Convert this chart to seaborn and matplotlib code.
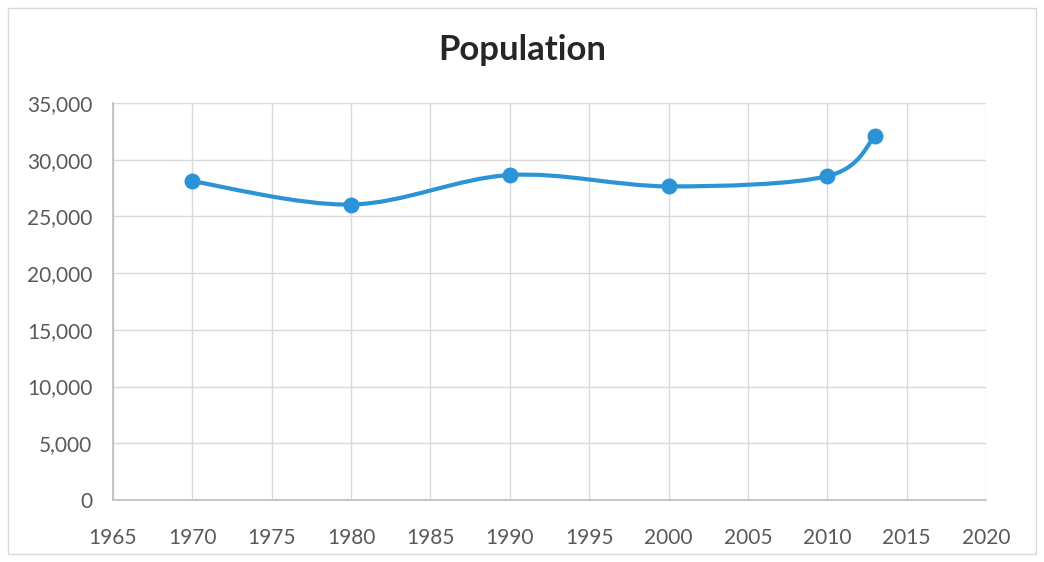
import numpy as np
import pandas as pd
import matplotlib
matplotlib.use('Agg')
import matplotlib.pyplot as plt
import seaborn as sns
from matplotlib.path import Path
from matplotlib.patches import PathPatch, Rectangle
from matplotlib.ticker import FuncFormatter

years = [1970, 1980, 1990, 2000, 2010, 2013]
population = [28100, 26050, 28650, 27650, 28550, 32050]

x_ticks = list(range(1965, 2021, 5))
y_ticks = list(range(0, 35001, 5000))

line_color = '#2B93D6'
grid_color = '#DADADA'
text_color = '#595959'

sns.set_theme(style='white')
plt.rcParams['font.family'] = ['Lato', 'DejaVu Sans']

df = pd.DataFrame({'year': years, 'population': population})

fig = plt.figure(figsize=(10.44, 5.62), dpi=100)
ax = fig.add_axes([113 / 1044, 1 - 500 / 562, (986 - 113) / 1044, (500 - 103) / 562])

# smoothed line like Excel (Catmull-Rom through the points as bezier segments)
xs = df['year'].to_numpy(float)
ys = df['population'].to_numpy(float)
verts = [(xs[0], ys[0])]
codes = [Path.MOVETO]
n = len(xs)
for i in range(n - 1):
    p0 = (xs[max(i - 1, 0)], ys[max(i - 1, 0)])
    p1 = (xs[i], ys[i])
    p2 = (xs[i + 1], ys[i + 1])
    p3 = (xs[min(i + 2, n - 1)], ys[min(i + 2, n - 1)])
    c1 = (p1[0] + (p2[0] - p0[0]) / 6, p1[1] + (p2[1] - p0[1]) / 6)
    c2 = (p2[0] - (p3[0] - p1[0]) / 6, p2[1] - (p3[1] - p1[1]) / 6)
    verts += [c1, c2, p2]
    codes += [Path.CURVE4] * 3
ax.add_patch(PathPatch(Path(verts, codes), facecolor='none', edgecolor=line_color,
                       lw=3, zorder=3, capstyle='round'))

sns.scatterplot(data=df, x='year', y='population', ax=ax, s=110, color=line_color,
                edgecolor=line_color, linewidth=1, zorder=4, legend=False)

ax.set_xlim(1965, 2020)
ax.set_ylim(0, 35000)
ax.set_xticks(x_ticks)
ax.set_yticks(y_ticks)
ax.yaxis.set_major_formatter(FuncFormatter(lambda v, p: f'{int(v):,}'))
ax.grid(True, color=grid_color, lw=1)
ax.set_axisbelow(True)
for s in ['top', 'right']:
    ax.spines[s].set_visible(False)
ax.spines['left'].set_color('#BFBFBF')
ax.spines['bottom'].set_color('#BFBFBF')
ax.tick_params(axis='both', colors=text_color, labelsize=15, length=0)
ax.tick_params(axis='y', pad=15)
ax.tick_params(axis='x', pad=20)
ax.set_xlabel('')
ax.set_ylabel('')

fig.text(0.5, 1 - 50 / 562, 'Population', ha='center', va='center',
         fontsize=25, fontweight='bold', color='#262626')

fig.patches.append(Rectangle((8 / 1044, 8 / 562), 1 - 16 / 1044, 1 - 16 / 562,
                             transform=fig.transFigure, fill=False,
                             edgecolor='#D9D9D9', lw=1))

fig.savefig('out.png', dpi=100)
